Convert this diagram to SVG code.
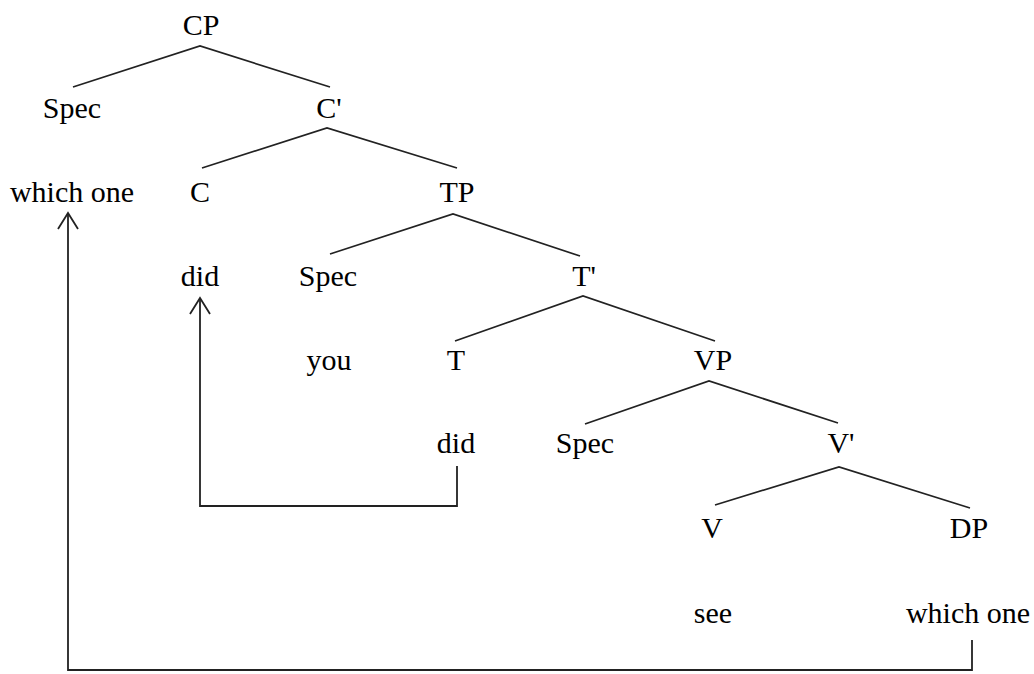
<svg xmlns="http://www.w3.org/2000/svg" width="1034" height="674" viewBox="0 0 1034 674">
<style>
text{font-family:"Liberation Serif","Times New Roman",serif;font-size:30px;fill:#000;text-anchor:middle}
.e{stroke:#222;stroke-width:1.7;fill:none}
.m{stroke:#222;stroke-width:1.8;fill:none}
</style>
<defs>
<marker id="ah" markerWidth="24" markerHeight="24" refX="18" refY="12" orient="auto" markerUnits="userSpaceOnUse" viewBox="0 0 24 24">
<path d="M2,2 L18,12 L2,22" fill="none" stroke="#222" stroke-width="1.8"/>
</marker>
</defs>
<rect width="1034" height="674" fill="#fff"/>
<g id="connectors">
<polyline class="e" points="73,87 200,46 330,87"/>
<polyline class="e" points="202,168 327,128 457,168"/>
<polyline class="e" points="330,254 453,214 580,256"/>
<polyline class="e" points="455,341 583,296 715,341"/>
<polyline class="e" points="585,424 709,381 838,423"/>
<polyline class="e" points="715,505 839,467 970,508"/>
<path class="m" d="M457,466 V506 H200 V298" marker-end="url(#ah)"/>
<path class="m" d="M972,640 V670 H68 V213" marker-end="url(#ah)"/>
</g>
<g id="n-cp"><text x="201" y="35">CP</text></g>
<g id="n-spec1"><text x="72" y="118">Spec</text></g>
<g id="n-cbar"><text x="329" y="118">C'</text></g>
<g id="n-which1"><text x="72" y="202">which one</text></g>
<g id="n-c"><text x="200" y="202">C</text></g>
<g id="n-tp"><text x="457" y="202">TP</text></g>
<g id="n-did1"><text x="200" y="286">did</text></g>
<g id="n-spec2"><text x="328" y="286">Spec</text></g>
<g id="n-tbar"><text x="584" y="286">T'</text></g>
<g id="n-you"><text x="329" y="370">you</text></g>
<g id="n-t"><text x="456" y="370">T</text></g>
<g id="n-vp"><text x="713" y="370">VP</text></g>
<g id="n-did2"><text x="456" y="453">did</text></g>
<g id="n-spec3"><text x="585" y="453">Spec</text></g>
<g id="n-vbar"><text x="841" y="453">V'</text></g>
<g id="n-v"><text x="712" y="538">V</text></g>
<g id="n-dp"><text x="969" y="538">DP</text></g>
<g id="n-see"><text x="713" y="623">see</text></g>
<g id="n-which2"><text x="968" y="623">which one</text></g>
</svg>
